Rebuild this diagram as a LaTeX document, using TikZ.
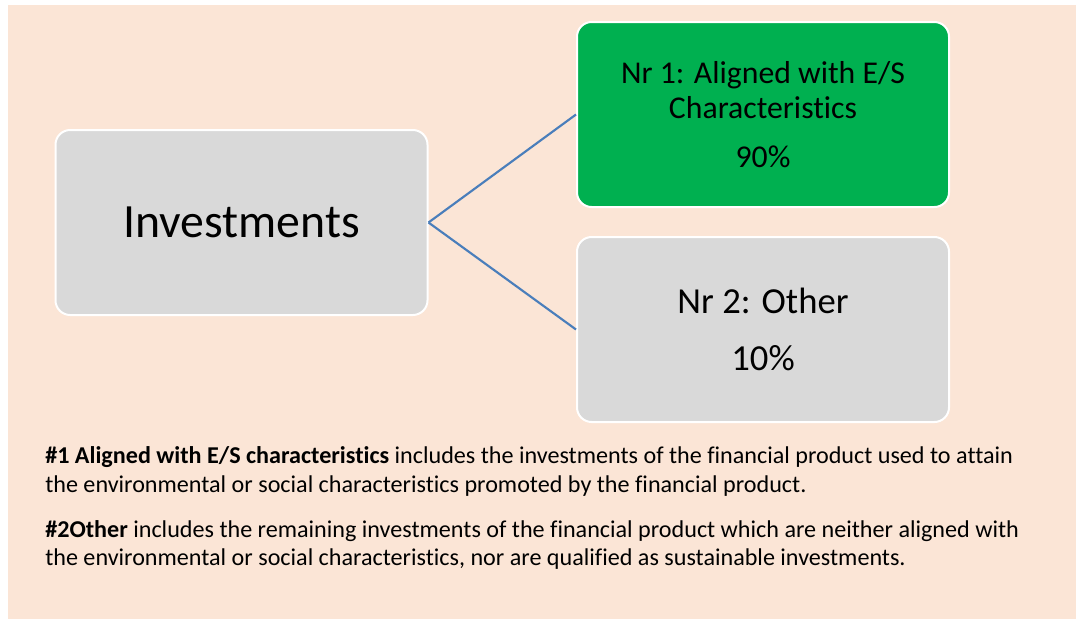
\documentclass[tikz,border=0pt]{standalone}
\usepackage{fontspec}
\setmainfont{Carlito}[Ligatures=NoCommon]
\usetikzlibrary{calc}
\definecolor{peach}{HTML}{FBE5D6}
\definecolor{boxgray}{HTML}{D9D9D9}
\definecolor{boxgreen}{HTML}{00B050}
\definecolor{linkblue}{HTML}{4A7EBB}

\begin{document}
\begin{tikzpicture}[x=0.75pt,y=-0.75pt,
  box/.style={draw=white, line width=1.5pt, rounded corners=11pt, minimum width=279pt, minimum height=138.75pt, align=center, inner sep=0pt},
  link/.style={linkblue, line width=1.6pt},
  note/.style={anchor=base west, inner sep=0pt, font=\fontsize{18.1}{21}\selectfont}]
\useasboundingbox (0,0) rectangle (1080,619);
\fill[peach] (8,5) rectangle (1076,619);
% boxes
\node[box, fill=boxgray, font=\fontsize{35.8}{42}\selectfont] (inv) at (241.5,222.5) {Investments};
\node[box, fill=boxgreen, font=\fontsize{23.8}{26.25}\selectfont] (nr1) at (763,114.5) {Nr 1: Aligned with E/S\\Characteristics\\[10.5pt]90\%};
\node[box, fill=boxgray, font=\fontsize{27.5}{42.75}\selectfont] (nr2) at (763,329.5) {Nr 2: Other\\10\%};
\draw[link] (inv.east) -- (nr1.west);
\draw[link] (inv.east) -- (nr2.west);
% notes
\node[note] (l1) at (45,463) {\textbf{\#1 Aligned with E/S characteristics} includes the investments of the financial product used to attain};
\node[note] (l2) at (45,492) {the environmental or social characteristics promoted by the financial product.};
\node[note] (l3) at (45,537) {\textbf{\#2Other} includes the remaining investments of the financial product which are neither aligned with};
\node[note] (l4) at (45,565) {the environmental or social characteristics, nor are qualified as sustainable investments.};
\end{tikzpicture}
\end{document}
